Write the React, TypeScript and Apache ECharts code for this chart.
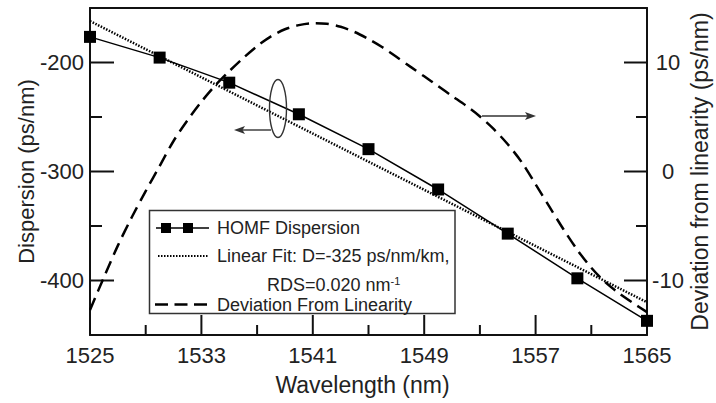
import React, { useEffect, useRef } from 'react';
import * as echarts from 'echarts';

// ---- data ----
const wavelengths = [1525, 1530, 1535, 1540, 1545, 1550, 1555, 1560, 1565];
const homfDispersion = [-176.5, -195.5, -218.5, -247.5, -279.5, -316.5, -357, -398, -437];

const fitWavelengths = [1525, 1565];
const linearFit = [-162, -420];

const deviationWavelengths = [
  1525, 1526, 1527, 1528, 1529, 1530, 1531, 1532, 1533, 1534, 1535, 1536, 1537, 1538, 1539, 1540,
  1541, 1542, 1543, 1544, 1545, 1546, 1547, 1548, 1549, 1550, 1551, 1552, 1553, 1554, 1555, 1556,
  1557, 1558, 1559, 1560, 1561, 1562, 1563, 1564, 1565,
];
const deviation = [
  -12.7, -9.7, -6.8, -4.2, -1.8, 0.5, 2.8, 4.7, 6.4, 7.9, 9.2, 10.4, 11.5, 12.4, 13.05, 13.43,
  13.6, 13.56, 13.28, 12.8, 12.15, 11.4, 10.52, 9.62, 8.73, 7.83, 6.93, 6.04, 5.05, 3.88, 2.5, 0.86,
  -1.18, -3.25, -5.3, -7.2, -8.83, -10.15, -11.18, -12.07, -12.9,
];

// tick values
const xMajorTicks = [1525, 1533, 1541, 1549, 1557, 1565];
const xMinorTicks = [1529, 1537, 1545, 1553, 1561];
const leftMajorTicks = [-400, -300, -200];
const leftMinorTicks = [-350, -250];
const rightMajorTicks = [-10, 0, 10];
const rightMinorTicks = [-5, 5];

const xName = 'Wavelength (nm)';
const leftName = 'Dispersion (ps/nm)';
const rightName = 'Deviation from linearity (ps/nm)';
const legendHomf = 'HOMF Dispersion';
const legendFit1 = 'Linear Fit: D=-325 ps/nm/km,';
const legendFit2 = 'RDS=0.020 nm';
const legendFit2Sup = '-1';
const legendDev = 'Deviation From Linearity';

const FONT = '"Liberation Sans", Arial, Helvetica, sans-serif';
const TEXT = '#222';
const AX = '#111';

export default function App() {
  const ref = useRef<HTMLDivElement>(null);
  useEffect(() => {
    document.body.style.margin = '0';
    const chart = echarts.init(ref.current as HTMLDivElement, undefined, {
      renderer: 'svg',
      width: 716,
      height: 403,
    });

    const axisLine = { show: true, onZero: false, lineStyle: { color: AX, width: 2 } };
    const noTick = { show: false };

    const tickSeries = (
      yAxisIndex: number,
      data: number[][],
      draw: (p: number[], major: boolean) => any
    ) => ({
      type: 'custom',
      xAxisIndex: 0,
      yAxisIndex,
      silent: true,
      clip: false,
      z: 1,
      dimensions: ['x', 'y', 'major'],
      encode: { x: 0, y: 1 },
      data,
      renderItem: (params: any, api: any) => {
        const p = api.coord([api.value(0), api.value(1)]);
        return draw(p, api.value(2) === 1);
      },
    });

    const option: any = {
      animation: false,
      grid: {
        left: 90,
        right: 69,
        top: 8,
        bottom: 68,
        outerBoundsMode: 'none',
      },
      xAxis: [
        {
          type: 'value',
          position: 'bottom',
          min: 1525,
          max: 1565,
          interval: 8,
          name: xName,
          nameLocation: 'middle',
          nameGap: 38,
          nameMoveOverlap: false,
          nameTextStyle: { fontSize: 23, color: TEXT, fontFamily: FONT, padding: [0, 12, 0, 0] },
          axisLine,
          splitLine: { show: false },
          axisTick: noTick,
          minorTick: noTick,
          axisLabel: { fontSize: 22, color: TEXT, margin: 9, fontFamily: FONT, formatter: (v: number) => String(v) },
        },
        {
          type: 'value',
          position: 'top',
          min: 1525,
          max: 1565,
          axisLine,
          splitLine: { show: false },
          axisTick: noTick,
          minorTick: noTick,
          axisLabel: { show: false },
        },
      ],
      yAxis: [
        {
          type: 'value',
          position: 'left',
          min: -450,
          max: -150,
          splitNumber: 3,
          name: leftName,
          nameLocation: 'middle',
          nameRotate: 90,
          nameGap: 53,
          nameMoveOverlap: false,
          nameTextStyle: { fontSize: 22, color: TEXT, fontFamily: FONT },
          axisLine,
          splitLine: { show: false },
          axisTick: noTick,
          minorTick: noTick,
          axisLabel: {
            fontSize: 22,
            color: TEXT,
            margin: 6,
            fontFamily: FONT,
            formatter: (v: number) => (Math.round(v) % 100 === 0 ? String(v) : ''),
          },
        },
        {
          type: 'value',
          position: 'right',
          min: -15,
          max: 15,
          splitNumber: 3,
          name: rightName,
          nameLocation: 'middle',
          nameRotate: 90,
          nameGap: 41,
          nameMoveOverlap: false,
          nameTextStyle: { fontSize: 23, color: TEXT, fontFamily: FONT },
          axisLine,
          splitLine: { show: false },
          axisTick: noTick,
          minorTick: noTick,
          axisLabel: {
            fontSize: 22,
            color: TEXT,
            margin: 21,
            align: 'center',
            fontFamily: FONT,
            formatter: (v: number) => (Math.round(v) % 10 === 0 ? String(v) : ''),
          },
        },
      ],
      series: [
        // axis ticks (inward), drawn through the axes' scales
        tickSeries(
          0,
          [...xMajorTicks.map((v) => [v, -450, 1]), ...xMinorTicks.map((v) => [v, -450, 0])],
          (p, major) => ({
            type: 'line',
            shape: { x1: p[0], y1: p[1], x2: p[0], y2: p[1] - (major ? 20 : 10) },
            style: { stroke: AX, lineWidth: 2 },
          })
        ),
        tickSeries(
          0,
          [...leftMajorTicks.map((v) => [1525, v, 1]), ...leftMinorTicks.map((v) => [1525, v, 0])],
          (p, major) => ({
            type: 'line',
            shape: { x1: p[0], y1: p[1], x2: p[0] + (major ? 24 : 12), y2: p[1] },
            style: { stroke: AX, lineWidth: 2 },
          })
        ),
        tickSeries(
          1,
          [...rightMajorTicks.map((v) => [1565, v, 1]), ...rightMinorTicks.map((v) => [1565, v, 0])],
          (p, major) => ({
            type: 'line',
            shape: { x1: p[0], y1: p[1], x2: p[0] - (major ? 23 : 11), y2: p[1] },
            style: { stroke: AX, lineWidth: 2 },
          })
        ),
        {
          name: legendHomf,
          type: 'line',
          xAxisIndex: 0,
          yAxisIndex: 0,
          data: wavelengths.map((w, i) => [w, homfDispersion[i]]),
          symbol: 'rect',
          symbolSize: 12,
          showSymbol: true,
          clip: false,
          itemStyle: { color: '#000' },
          lineStyle: { color: '#000', width: 1.5 },
          z: 4,
        },
        {
          name: 'Linear Fit',
          type: 'line',
          xAxisIndex: 0,
          yAxisIndex: 0,
          data: fitWavelengths.map((w, i) => [w, linearFit[i]]),
          symbol: 'none',
          lineStyle: { color: '#000', width: 2.5, type: [1.5, 1.5] },
          z: 3,
        },
        {
          name: legendDev,
          type: 'line',
          xAxisIndex: 0,
          yAxisIndex: 1,
          data: deviationWavelengths.map((w, i) => [w, deviation[i]]),
          symbol: 'none',
          smooth: 0.3,
          lineStyle: { color: '#000', width: 2.5, type: [13, 7] },
          z: 2,
        },
      ],
      graphic: [
        // legend box
        {
          type: 'rect',
          z: 100,
          shape: { x: 149.5, y: 210.5, width: 305.5, height: 103 },
          style: { fill: '#fff', stroke: '#333', lineWidth: 1.5 },
        },
        {
          type: 'line',
          z: 101,
          shape: { x1: 156, y1: 228, x2: 209, y2: 228 },
          style: { stroke: '#000', lineWidth: 1.5 },
        },
        { type: 'rect', z: 102, shape: { x: 161, y: 223, width: 10, height: 10 }, style: { fill: '#000' } },
        { type: 'rect', z: 102, shape: { x: 183, y: 223, width: 10, height: 10 }, style: { fill: '#000' } },
        {
          type: 'text',
          z: 101,
          x: 217,
          y: 228,
          style: { text: legendHomf, fontSize: 18, fontFamily: FONT, fill: TEXT, verticalAlign: 'middle', align: 'left' },
        },
        {
          type: 'line',
          z: 101,
          shape: { x1: 158, y1: 256, x2: 208, y2: 256 },
          style: { stroke: '#000', lineWidth: 2.2, lineDash: [1.5, 1.5] },
        },
        {
          type: 'text',
          z: 101,
          x: 217,
          y: 256,
          style: { text: legendFit1, fontSize: 18, fontFamily: FONT, fill: TEXT, verticalAlign: 'middle', align: 'left' },
        },
        {
          type: 'text',
          z: 101,
          x: 267,
          y: 284.5,
          style: {
            text: `{a|${legendFit2}}{s|${legendFit2Sup}}`,
            fontSize: 18,
            fontFamily: FONT,
            fill: TEXT,
            verticalAlign: 'middle',
            align: 'left',
            rich: {
              a: { fontSize: 18, fontFamily: FONT, fill: TEXT },
              s: { fontSize: 11, fontFamily: FONT, fill: TEXT, verticalAlign: 'top' },
            },
          },
        },
        {
          type: 'line',
          z: 101,
          shape: { x1: 155, y1: 304.5, x2: 207, y2: 304.5 },
          style: { stroke: '#000', lineWidth: 2.5, lineDash: [13, 6.5] },
        },
        {
          type: 'text',
          z: 101,
          x: 217,
          y: 304.5,
          style: { text: legendDev, fontSize: 18, fontFamily: FONT, fill: TEXT, verticalAlign: 'middle', align: 'left' },
        },
        // annotation: loop + left arrow
        {
          type: 'ellipse',
          z: 50,
          shape: { cx: 278, cy: 108.5, rx: 8.5, ry: 29 },
          style: { fill: 'none', stroke: '#333', lineWidth: 1.4 },
        },
        {
          type: 'line',
          z: 50,
          shape: { x1: 271, y1: 130, x2: 242, y2: 130 },
          style: { stroke: '#333', lineWidth: 1.4 },
        },
        {
          type: 'polygon',
          z: 50,
          shape: { points: [[234, 130], [245, 126], [242.5, 130], [245, 134]] },
          style: { fill: '#333' },
        },
        // right arrow
        {
          type: 'line',
          z: 50,
          shape: { x1: 482, y1: 116, x2: 528, y2: 116 },
          style: { stroke: '#333', lineWidth: 1.4 },
        },
        {
          type: 'polygon',
          z: 50,
          shape: { points: [[536, 116], [525, 112], [527.5, 116], [525, 120]] },
          style: { fill: '#333' },
        },
      ],
    };

    chart.setOption(option);
    return () => chart.dispose();
  }, []);

  return (
    <div
      ref={ref}
      style={{ width: 716, height: 403, position: 'fixed', left: 0, top: 0, background: '#fff' }}
    />
  );
}
